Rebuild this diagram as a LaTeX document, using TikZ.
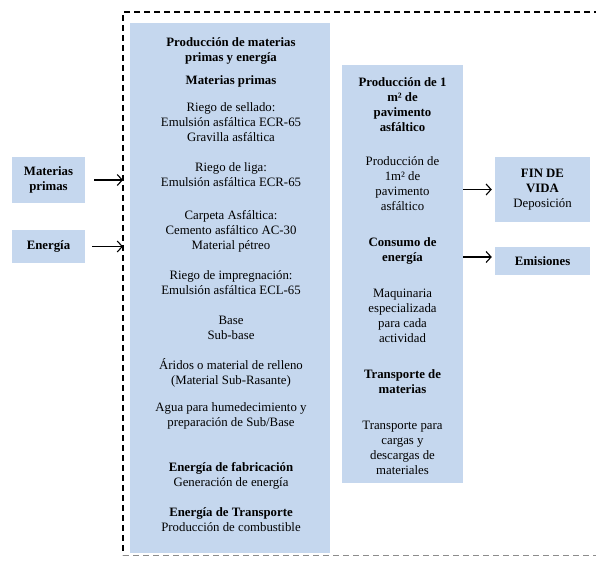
\documentclass[tikz,border=0pt]{standalone}
\usepackage{fontspec}
\setmainfont{Liberation Serif}
\usetikzlibrary{arrows.meta}
\definecolor{cajaazul}{RGB}{197,215,238}
\begin{document}
\begin{tikzpicture}[x=1pt, y=-1pt,
	caja/.style={fill=cajaazul, draw=none, inner sep=0pt, align=center, font=\fontsize{12.8}{15}\selectfont},
	txt/.style={align=center, inner sep=0pt, font=\fontsize{12.8}{15}\selectfont},
	flecha/.style={-{Straight Barb[length=5pt,width=11pt]}, line width=1.1pt}]
	\useasboundingbox (0,0) rectangle (596,560);
	% limite del sistema
	\draw[dash pattern=on 6pt off 4pt, line width=1.1pt] (620,12) -- (123,12) -- (123,555);
	\draw[dash pattern=on 6pt off 4pt, line width=1pt, black!45] (123,555) -- (620,555);
	\coordinate (marco) at (123,12);
	% cajas
	\node[caja, minimum width=200, minimum height=530, anchor=north west] (prod)  at (130,23) {};
	\node[caja, minimum width=121, minimum height=418, anchor=north west] (medio) at (342,65) {};
	\node[caja, minimum width=73,  minimum height=46] (mp)   at (48.5,180)   {\textbf{Materias}\\\textbf{primas}};
	\node[caja, minimum width=73,  minimum height=33] (en)   at (48.5,246.5) {\textbf{Energía}};
	\node[caja, minimum width=95,  minimum height=65] (fin)  at (542.5,189.5) {\textbf{FIN DE}\\\textbf{VIDA}\\Deposición};
	\node[caja, minimum width=95,  minimum height=28] (emis) at (542.5,261)  {\textbf{Emisiones}};
	% produccion de materias primas
	\node[txt] (pm1)  at (231,51)    {\textbf{Producción de materias}\\\textbf{primas y energía}};
	\node[txt] (pm2)  at (231,81)    {\textbf{Materias primas}};
	\node[txt] (pm3)  at (231,122)   {Riego de sellado:\\Emulsión asfáltica ECR-65\\Gravilla asfáltica};
	\node[txt] (pm4)  at (231,174.5) {Riego de liga:\\Emulsión asfáltica ECR-65};
	\node[txt] (pm5)  at (231,231.5) {Carpeta Asfáltica:\\Cemento asfáltico AC-30\\Material pétreo};
	\node[txt] (pm6)  at (231,282.5) {Riego de impregnación:\\Emulsión asfáltica ECL-65};
	\node[txt] (pm7)  at (231,327.5) {Base\\Sub-base};
	\node[txt] (pm8)  at (231,372.5) {Áridos o material de relleno\\(Material Sub-Rasante)};
	\node[txt] (pm9)  at (231,415.5) {Agua para humedecimiento y\\preparación de Sub/Base};
	\node[txt] (pm10) at (231,476)   {\textbf{Energía de fabricación}\\Generación de energía};
	\node[txt] (pm11) at (231,519.5) {\textbf{Energía de Transporte}\\Producción de combustible};
	% produccion del pavimento
	\node[txt] (pv1) at (402.5,105)   {\textbf{Producción de 1}\\\textbf{m² de}\\\textbf{pavimento}\\\textbf{asfáltico}};
	\node[txt] (pv2) at (402.5,184)   {Producción de\\1m² de\\pavimento\\asfáltico};
	\node[txt] (pv3) at (402.5,250.5) {\textbf{Consumo de}\\\textbf{energía}};
	\node[txt] (pv4) at (402.5,315.5) {Maquinaria\\especializada\\para cada\\actividad};
	\node[txt] (pv5) at (402.5,382)   {\textbf{Transporte de}\\\textbf{materias}};
	\node[txt] (pv6) at (402.5,448)   {Transporte para\\cargas y\\descargas de\\materiales};
	% flechas
	\draw[flecha, shorten <=9pt] (mp.east) -- (mp.east -| marco);
	\draw[flecha, shorten <=7pt] (en.east) -- (en.east -| marco);
	\draw[flecha, shorten >=3pt] (medio.east |- fin.west) -- (fin.west);
	\draw[flecha, shorten >=3pt] ([yshift=4pt]medio.east |- emis.west) -- ([yshift=4pt]emis.west);
\end{tikzpicture}
\end{document}
